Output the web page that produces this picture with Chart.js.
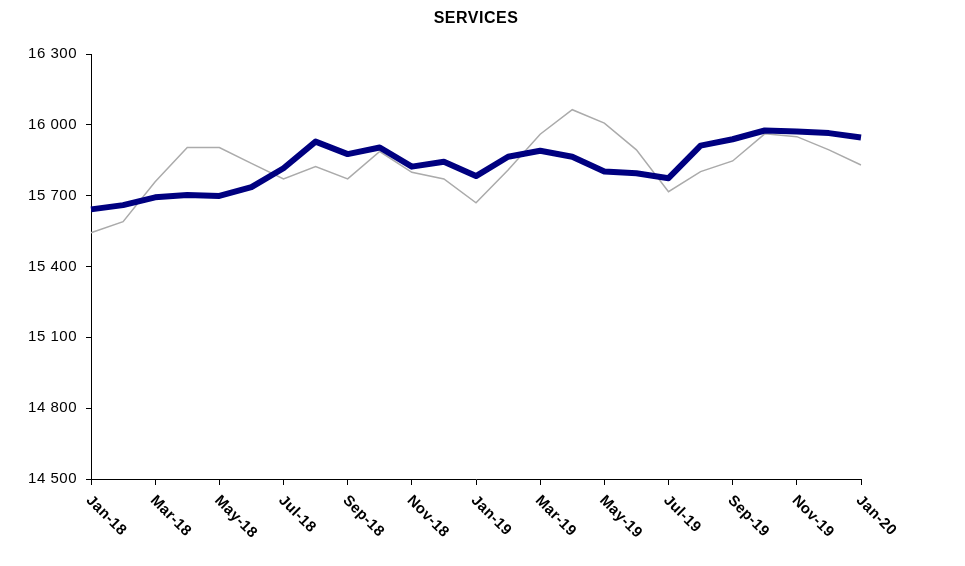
<!DOCTYPE html>
<html>
<head>
<meta charset="utf-8">
<script src="https://cdn.jsdelivr.net/npm/chart.js@4/dist/chart.umd.min.js"></script>
<style>
html,body{margin:0;padding:0;background:#fff;}
canvas{display:block;}
</style>
</head>
<body>
<canvas id="c" width="965" height="566"></canvas>
<script>
const months = ['Jan-18','Feb-18','Mar-18','Apr-18','May-18','Jun-18','Jul-18','Aug-18','Sep-18','Oct-18','Nov-18','Dec-18',
                'Jan-19','Feb-19','Mar-19','Apr-19','May-19','Jun-19','Jul-19','Aug-19','Sep-19','Oct-19','Nov-19','Dec-19','Jan-20'];
const trendSeries = [15642,15660,15693,15703,15699,15736,15816,15929,15876,15904,15823,15844,
                     15783,15865,15890,15865,15802,15795,15774,15912,15939,15976,15972,15965,15946];
const rawSeries = [15543,15590,15759,15904,15904,15837,15771,15823,15771,15887,15799,15771,
                   15670,15809,15960,16064,16007,15894,15717,15802,15847,15962,15950,15894,15830];
const yTicks = [14500,14800,15100,15400,15700,16000,16300];
const chartTitle = 'SERVICES';

const fmt = v => String(v).replace(/\B(?=(\d{3})+(?!\d))/g, ' ');

const spacing = {
  id: 'spacing',
  beforeDraw(chart) { chart.ctx.letterSpacing = '0.5px'; }
};

const rotatedLabels = {
  id: 'rotatedLabels',
  afterDraw(chart) {
    const xs = chart.scales.x;
    const ctx = chart.ctx;
    ctx.save();
    ctx.letterSpacing = '0.4px';
    ctx.fillStyle = '#000';
    ctx.font = 'bold 15px "Liberation Sans", Arial, sans-serif';
    ctx.textAlign = 'left';
    ctx.textBaseline = 'middle';
    for (let i = 0; i < months.length; i += 2) {
      const x = xs.getPixelForValue(i);
      ctx.save();
      ctx.translate(x - 2.5, chart.chartArea.bottom + 19);
      ctx.rotate(Math.PI / 4);
      ctx.fillText(months[i], 0, 0);
      ctx.restore();
    }
    ctx.restore();
  }
};

const canvas = document.getElementById('c');
canvas.getContext('2d').letterSpacing = '0.5px';

new Chart(canvas, {
  type: 'line',
  data: {
    labels: months,
    datasets: [
      { data: trendSeries, borderColor: '#000080', borderWidth: 6, pointRadius: 0, tension: 0, borderJoinStyle: 'round', fill: false },
      { data: rawSeries, borderColor: '#ababab', borderWidth: 1.5, pointRadius: 0, tension: 0, fill: false }
    ]
  },
  options: {
    responsive: false,
    animation: false,
    layout: { padding: { left: 0, right: 104, top: 0, bottom: 0 } },
    plugins: {
      legend: { display: false },
      tooltip: { enabled: false },
      title: {
        display: true,
        text: chartTitle,
        fullSize: false,
        color: '#000',
        font: { family: '"Liberation Sans", Arial, sans-serif', size: 16, weight: 'bold', lineHeight: 1.2 },
        padding: { top: 9, bottom: 25.8 }
      }
    },
    scales: {
      x: {
        type: 'category',
        offset: false,
        ticks: { display: false },
        grid: {
          drawOnChartArea: false,
          drawTicks: true,
          tickLength: 6,
          color: c => (c.index % 2 === 0 ? '#000' : 'rgba(0,0,0,0)'),
          lineWidth: 1
        },
        border: { color: '#000', width: 1 },
        afterFit: s => { s.height = 87; }
      },
      y: {
        min: 14500,
        max: 16300,
        afterBuildTicks: s => { s.ticks = yTicks.map(v => ({ value: v })); },
        ticks: {
          color: '#000',
          padding: 9,
          font: { family: '"Liberation Sans", Arial, sans-serif', size: 15 },
          callback: v => fmt(v)
        },
        grid: { drawOnChartArea: false, drawTicks: true, tickLength: 5, color: '#000', lineWidth: 1 },
        border: { color: '#000', width: 1 },
        afterFit: s => { s.width = 91; }
      }
    }
  },
  plugins: [spacing, rotatedLabels]
});
</script>
</body>
</html>
